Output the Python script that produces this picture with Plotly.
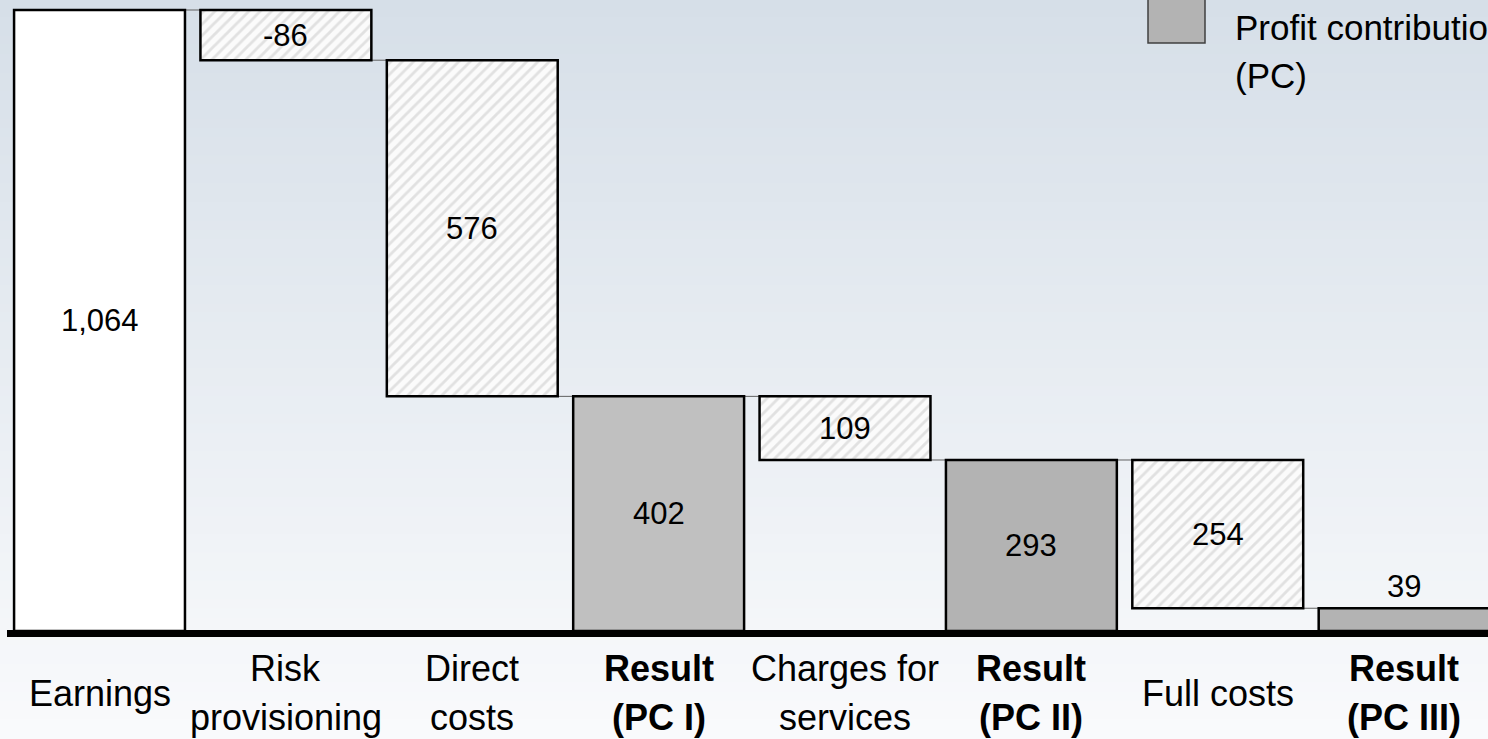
import plotly.graph_objects as go

# ---------------- data ----------------
categories = ["Earnings", "Risk provisioning", "Direct costs", "Result (PC I)",
              "Charges for services", "Result (PC II)", "Full costs", "Result (PC III)"]
label_lines = [["Earnings"], ["Risk", "provisioning"], ["Direct", "costs"],
               ["<b>Result</b>", "<b>(PC I)</b>"], ["Charges for", "services"],
               ["<b>Result</b>", "<b>(PC II)</b>"], ["Full costs"],
               ["<b>Result</b>", "<b>(PC III)</b>"]]
values = [1064, -86, -576, 402, -109, 293, -254, 39]
kinds = ["start", "delta", "delta", "total", "delta", "total", "delta", "total"]
value_text = ["1,064", "-86", "576", "402", "109", "293", "254", "39"]
legend_label = ["Profit contribution", "(PC)"]

# ---------------- compute waterfall geometry ----------------
bases, heights = [], []
running = 0
for v, k in zip(values, kinds):
    if k in ("start", "total"):
        bases.append(0); heights.append(v); running = v
    else:
        new = running + v
        bases.append(min(running, new)); heights.append(abs(v)); running = new

fig = go.Figure()

W, H = 1488, 739
BAR_W = 0.917
# background gradient bands
top = (214, 223, 232)
bot = (249, 250, 252)
nb = 80
shapes = []
for i in range(nb):
    t = i / (nb - 1)
    c = tuple(int(round(top[j] + (bot[j] - top[j]) * t)) for j in range(3))
    shapes.append(dict(type="rect", xref="paper", yref="paper",
                       x0=0, x1=1, y0=1 - (i + 1) / nb, y1=1 - i / nb + 0.002,
                       fillcolor="rgb(%d,%d,%d)" % c, line=dict(width=0), layer="below"))

# connectors (center to center, hidden under bars)
for i in range(len(categories) - 1):
    if kinds[i] == "delta":
        lvl = bases[i] if values[i] < 0 else bases[i] + heights[i]
    else:
        lvl = bases[i] + heights[i]
    shapes.append(dict(type="line", xref="x", yref="y", x0=i, x1=i + 1,
                       y0=lvl, y1=lvl, line=dict(color="#606060", width=1),
                       layer="below"))

solid_idx = [i for i, k in enumerate(kinds) if k != "delta"]
delta_idx = [i for i, k in enumerate(kinds) if k == "delta"]
solid_colors = ["#ffffff" if kinds[i] == "start" else ("#c0c0c0" if i == 3 else "#b3b3b3")
                for i in solid_idx]

fig.add_trace(go.Bar(
    x=solid_idx, y=[heights[i] for i in solid_idx], base=[bases[i] for i in solid_idx],
    width=BAR_W,
    marker=dict(color=solid_colors, line=dict(color="black", width=2.5)),
    hovertext=[categories[i] for i in solid_idx], showlegend=False))

fig.add_trace(go.Bar(
    x=delta_idx, y=[heights[i] for i in delta_idx], base=[bases[i] for i in delta_idx],
    width=BAR_W,
    marker=dict(color="#fbfbfb", line=dict(color="black", width=2.5),
                pattern=dict(shape="/", fgcolor="#e1e1e1", bgcolor="#fbfbfb",
                             fgopacity=1, size=8, solidity=0.35,
                             fillmode="replace")),
    hovertext=[categories[i] for i in delta_idx], showlegend=False))

annotations = []
for i, (b, h, t) in enumerate(zip(bases, heights, value_text)):
    if h < 60:
        annotations.append(dict(x=i, y=b + h, xref="x", yref="y", text=t,
                                showarrow=False, yanchor="bottom", yshift=2,
                                font=dict(size=31, color="black")))
    else:
        annotations.append(dict(x=i, y=b + h / 2, xref="x", yref="y", text=t,
                                showarrow=False, yanchor="middle",
                                font=dict(size=31, color="black")))

# category labels
for i, lines in enumerate(label_lines):
    ys = [693] if len(lines) == 1 else [668, 717]
    for ln, yp in zip(lines, ys):
        annotations.append(dict(x=i, y=1 - yp / H, xref="x", yref="paper", text=ln,
                                showarrow=False, yanchor="middle", xanchor="center",
                                font=dict(size=36, color="black")))

# legend
shapes.append(dict(type="rect", xref="paper", yref="paper",
                   x0=1148 / W, x1=1205 / W, y0=1 - 43 / H, y1=1.02,
                   fillcolor="#b3b3b3", line=dict(color="#404040", width=1.5),
                   layer="above"))
for ln, yp in zip(legend_label, [28, 75]):
    annotations.append(dict(x=1233 / W, y=1 - yp / H, xref="paper", yref="paper",
                            text=ln, showarrow=False, xanchor="left", yanchor="middle",
                            font=dict(size=35, color="black")))

# thick baseline axis
shapes.append(dict(type="line", xref="paper", yref="y", x0=7 / W, x1=1,
                   y0=-4.3, y1=-4.3, line=dict(color="black", width=7), layer="above"))

px_per_unit = 621 / 1064
ymax = 631 / px_per_unit
ymin = -(H - 631) / px_per_unit

fig.update_layout(
    width=W, height=H, margin=dict(l=0, r=0, t=0, b=0),
    paper_bgcolor="#f8f9fb", plot_bgcolor="rgba(0,0,0,0)",
    font=dict(family="Liberation Sans, Arial, sans-serif", color="black"),
    barmode="overlay",
    xaxis=dict(range=[-0.534, 7.45], showticklabels=False, showgrid=False,
               zeroline=False, showline=False, ticks=""),
    yaxis=dict(range=[ymin, ymax], showticklabels=False, showgrid=False,
               zeroline=False, showline=False, ticks=""),
    shapes=shapes, annotations=annotations,
)

fig.write_html("out.html")
